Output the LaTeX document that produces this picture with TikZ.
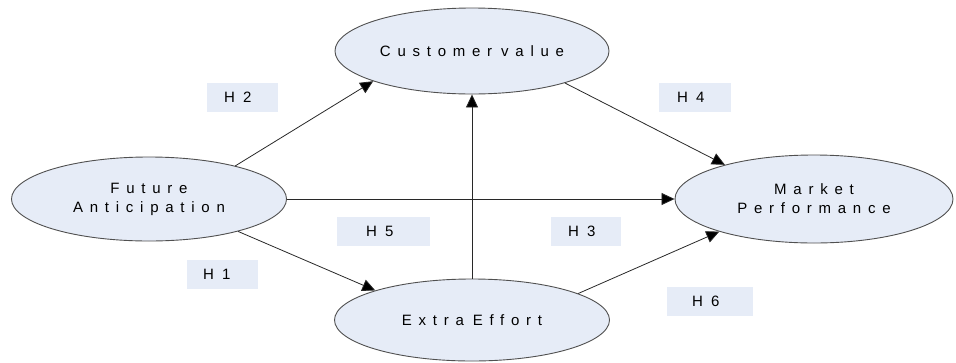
\documentclass[tikz,border=0pt]{standalone}
\usepackage{fontspec}
\setmainfont{Liberation Sans}
\newfontfamily\spacedfont[LetterSpace=45]{Liberation Sans}
\usetikzlibrary{shapes.geometric,arrows.meta}
\definecolor{paleblue}{RGB}{230,236,247}
\definecolor{rimgray}{RGB}{80,80,80}
\definecolor{linkgray}{RGB}{40,40,40}
\newcommand{\wordgap}{\kern9pt}
\begin{document}
\begin{tikzpicture}[x=1pt,y=-1pt,
  construct/.style={ellipse, draw=rimgray, line width=0.9pt, fill=paleblue,
    inner sep=0pt, align=center, font=\spacedfont\fontsize{15}{19}\selectfont},
  hyp/.style={rectangle, fill=paleblue, minimum height=29pt, anchor=west,
    align=left, inner ysep=0pt, font=\fontsize{15}{17}\selectfont},
  conn/.style={draw=linkgray, line width=0.8pt,
    -{Triangle[length=13pt,width=12pt,fill=black]}}]
\useasboundingbox (0,0) rectangle (956,362);

% constructs
\node[construct, minimum width=274pt, minimum height=86pt] (cv) at (472,51) {Customer\wordgap value};
\node[construct, minimum width=275pt, minimum height=84pt] (fa) at (149,199) {Future\\Anticipation};
\node[construct, minimum width=278pt, minimum height=88pt] (mp) at (814,199) {Market\\Performance};
\node[construct, minimum width=275pt, minimum height=82pt] (ee) at (472,320) {Extra\wordgap Effort};

% hypothesis labels
\node[hyp, inner xsep=17pt, text width=37pt] (h2) at (207,97) {H\hspace{8pt}2};
\node[hyp, inner xsep=18pt, text width=36pt] (h4) at (659,97) {H\hspace{8pt}4};
\node[hyp, inner xsep=29pt, text width=35pt] (h5) at (337,231) {H\hspace{8pt}5};
\node[hyp, inner xsep=17pt, text width=36pt] (h3) at (551,231) {H\hspace{8pt}3};
\node[hyp, inner xsep=16pt, text width=39pt] (h1) at (187,274) {H\hspace{8pt}1};
\node[hyp, inner xsep=25pt, text width=36pt] (h6) at (667,301) {H\hspace{8pt}6};

% paths
\draw[conn] (fa.21) -- (cv.197);
\draw[conn] (fa.east) -- (mp.west);
\draw[conn] (fa.-20) -- (ee.163);
\draw[conn] (ee.north) -- (cv.south);
\draw[conn] (cv.-19) -- (mp.159);
\draw[conn] (ee.14) -- (mp.199);
\end{tikzpicture}
\end{document}
